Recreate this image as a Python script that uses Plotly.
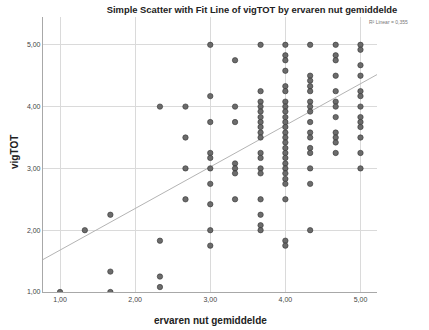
import plotly.graph_objects as go

# x categories (ervaren nut gemiddelde) and the vigTOT values observed at each
x_levels = [1.0, 1.33, 1.67, 2.33, 2.67, 3.0, 3.33, 3.67, 4.0, 4.33, 4.67, 5.0]
y_at_100 = [1.0]
y_at_133 = [2.0]
y_at_167 = [2.25, 1.33, 1.0]
y_at_233 = [4.0, 1.83, 1.25, 1.08]
y_at_267 = [4.0, 3.5, 3.0, 2.5]
y_at_300 = [5.0, 4.17, 3.75, 3.25, 3.17, 3.0, 2.75, 2.42, 2.0, 1.75]
y_at_333 = [4.75, 4.0, 3.75, 3.08, 3.0, 2.92, 2.5]
y_at_367 = [5.0, 4.25, 4.08, 4.0, 3.92, 3.83, 3.75, 3.67, 3.58, 3.5,
            3.25, 3.17, 3.0, 2.92, 2.5, 2.25, 2.08, 2.0]
y_at_400 = [5.0, 4.83, 4.75, 4.58, 4.33, 4.25, 4.08, 4.0, 3.92, 3.83, 3.75,
            3.67, 3.58, 3.5, 3.42, 3.33, 3.25, 3.17, 3.08, 3.0, 2.92, 2.83,
            2.75, 2.5, 1.83, 1.75]
y_at_433 = [5.0, 4.5, 4.42, 4.33, 4.25, 4.08, 4.0, 3.92, 3.75, 3.58, 3.5,
            3.33, 3.25, 3.0, 2.75, 2.0]
y_at_467 = [5.0, 4.83, 4.75, 4.5, 4.25, 4.08, 4.0, 3.83, 3.58, 3.5, 3.42, 3.25]
y_at_500 = [5.0, 4.92, 4.67, 4.5, 4.25, 4.17, 4.0, 3.83, 3.75, 3.67, 3.5, 3.25, 3.0]

columns = [y_at_100, y_at_133, y_at_167, y_at_233, y_at_267, y_at_300,
           y_at_333, y_at_367, y_at_400, y_at_433, y_at_467, y_at_500]

tick_values = [1, 2, 3, 4, 5]

# fit line: vigTOT = intercept + slope * x
fit_intercept = 1.005
fit_slope = 0.673
r2_text = "R² Linear = 0,355"

x_range = [0.773, 5.22]
y_range = [1.0, 5.45]

xs, ys = [], []
for xv, col in zip(x_levels, columns):
    for yv in col:
        xs.append(xv)
        ys.append(yv)

fig = go.Figure()
fig.add_trace(go.Scatter(
    x=x_range, y=[fit_intercept + fit_slope * v for v in x_range],
    mode="lines", line=dict(color="#b4b4b4", width=1), hoverinfo="skip",
    showlegend=False))
fig.add_trace(go.Scatter(
    x=xs, y=ys, mode="markers",
    marker=dict(size=5.4, color="rgba(95,95,95,0.92)",
                line=dict(color="#333333", width=0.6)),
    showlegend=False, cliponaxis=True))

font = "Liberation Sans, Arial, sans-serif"
axis_common = dict(
    tickvals=tick_values, tickformat=".2f",
    showgrid=True, gridcolor="#dadada", gridwidth=1,
    zeroline=False, showline=True, linecolor="#a8a8a8", linewidth=1.2,
    ticks="", tickfont=dict(size=7, color="#444"), automargin=False,
)
fig.update_layout(
    width=429, height=330,
    margin=dict(l=43, r=52, t=17, b=38, autoexpand=False),
    paper_bgcolor="white", plot_bgcolor="white",
    separators=",.",
    font=dict(family=font, color="#333"),
    title=dict(text="<b>Simple Scatter with Fit Line of vigTOT by ervaren nut gemiddelde</b>",
               font=dict(size=9.4, color="#222", family=font),
               xref="container", yref="container", x=252 / 429, y=1 - 10 / 330,
               xanchor="center", yanchor="middle", automargin=False),
    xaxis=dict(range=x_range, **axis_common),
    yaxis=dict(range=y_range, **axis_common),
    annotations=[
        dict(text=r2_text, xref="paper", yref="paper",
             x=(410 - 43) / 334, y=1 - (22 - 17) / 275, xanchor="right", yanchor="middle",
             showarrow=False, font=dict(size=5, color="#777")),
        dict(text="<b>ervaren nut gemiddelde</b>", xref="paper", yref="paper",
             x=0.5, y=-(320 - 292) / 275, xanchor="center", yanchor="middle",
             showarrow=False, font=dict(size=10, color="#222")),
        dict(text="<b>vigTOT</b>", xref="paper", yref="paper", textangle=-90,
             x=-(43 - 14) / 334, y=1 - (152 - 17) / 275, xanchor="center", yanchor="middle",
             showarrow=False, font=dict(size=10, color="#222")),
    ],
)

fig.write_html("out.html", config={"displayModeBar": False},
               post_script="document.body.style.margin='0';")
